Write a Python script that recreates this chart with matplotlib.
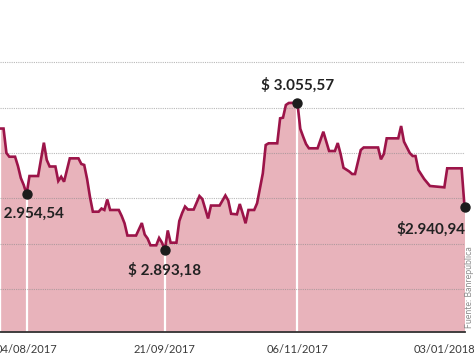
import matplotlib
matplotlib.use("Agg")
import matplotlib.pyplot as plt
import matplotlib.dates as mdates
import matplotlib.transforms as mtransforms
import numpy as np
import pandas as pd

# Cierre diario (lectura aproximada del grafico)
fechas = [
    "2017-07-26", "2017-07-27", "2017-07-28", "2017-07-29", "2017-07-31",
    "2017-08-01", "2017-08-02", "2017-08-03", "2017-08-04", "2017-08-05",
    "2017-08-08", "2017-08-10", "2017-08-11", "2017-08-12", "2017-08-14",
    "2017-08-15", "2017-08-16", "2017-08-17", "2017-08-19", "2017-08-22",
    "2017-08-23", "2017-08-24", "2017-08-25", "2017-08-26", "2017-08-27",
    "2017-08-29", "2017-08-30", "2017-08-31", "2017-09-01", "2017-09-02",
    "2017-09-05", "2017-09-06", "2017-09-07", "2017-09-08", "2017-09-11",
    "2017-09-13", "2017-09-14", "2017-09-15", "2017-09-16", "2017-09-18",
    "2017-09-19", "2017-09-20", "2017-09-21", "2017-09-22", "2017-09-23",
    "2017-09-25", "2017-09-26", "2017-09-27", "2017-09-28", "2017-09-29",
    "2017-10-01", "2017-10-03", "2017-10-04", "2017-10-06", "2017-10-07",
    "2017-10-10", "2017-10-12", "2017-10-13", "2017-10-14", "2017-10-16",
    "2017-10-17", "2017-10-18", "2017-10-19", "2017-10-20", "2017-10-22",
    "2017-10-23", "2017-10-25", "2017-10-26", "2017-10-27", "2017-10-30",
    "2017-10-31", "2017-11-01", "2017-11-02", "2017-11-03", "2017-11-06",
    "2017-11-07", "2017-11-08", "2017-11-09", "2017-11-10", "2017-11-13",
    "2017-11-15", "2017-11-17", "2017-11-19", "2017-11-20", "2017-11-21",
    "2017-11-22", "2017-11-24", "2017-11-25", "2017-11-26", "2017-11-28",
    "2017-11-29", "2017-12-04", "2017-12-05", "2017-12-06", "2017-12-07",
    "2017-12-11", "2017-12-12", "2017-12-13", "2017-12-15", "2017-12-16",
    "2017-12-17", "2017-12-18", "2017-12-20", "2017-12-22", "2017-12-27",
    "2017-12-28", "2018-01-02", "2018-01-03",
]
valores = [
    3027.0, 3027.0, 3000.0, 2995.9, 2995.9,
    2985.6, 2972.4, 2964.7, 2954.54, 2974.6,
    2974.6, 3011.4, 2992.3, 2985.1, 2985.1,
    2969.1, 2973.8, 2968.3, 2994.1, 2994.1,
    2987.9, 2986.8, 2971.3, 2951.4, 2935.2,
    2935.2, 2938.7, 2937.1, 2948.7, 2937.1,
    2937.1, 2930.5, 2922.4, 2908.9, 2908.9,
    2922.7, 2910.0, 2905.6, 2898.1, 2898.1,
    2906.2, 2901.0, 2893.18, 2914.5, 2901.0,
    2901.0, 2924.9, 2933.8, 2940.9, 2937.6,
    2937.6, 2952.5, 2949.2, 2927.7, 2942.0,
    2942.0, 2953.1, 2947.6, 2932.9, 2932.3,
    2943.7, 2933.4, 2922.4, 2937.1, 2937.1,
    2944.5, 2977.6, 3008.8, 3010.7, 3010.7,
    3038.3, 3039.0, 3053.0, 3055.2, 3055.57,
    3026.7, 3018.0, 3009.9, 3005.2, 3005.2,
    3023.5, 3002.2, 3002.2, 3011.0, 2998.9,
    2983.7, 2979.6, 2976.8, 2976.8, 3003.3,
    3006.1, 3006.1, 2993.0, 2998.9, 3016.2,
    3016.2, 3029.8, 3012.5, 3000.0, 2996.7,
    2996.7, 2981.2, 2971.3, 2963.6, 2962.1,
    2983.1, 2983.1, 2940.94,
]

# puntos destacados
fechas_marca = ["2017-08-04", "2017-09-21", "2017-11-06", "2018-01-03"]
valores_marca = [2954.54, 2893.18, 3055.57, 2940.94]
textos_marca = ["$ 2.954,54", "$ 2.893,18", "$ 3.055,57", "$2.940,94"]

fechas_ticks = ["2017-08-04", "2017-09-21", "2017-11-06", "2018-01-03"]
lineas_grilla = [2850, 2900, 2950, 3000, 3050, 3100]

x = pd.to_datetime(fechas)
xm = pd.to_datetime(fechas_marca)

color_linea = "#9c1449"
color_relleno = "#e8b3bb"
y_min, y_max = 2802.4, 3168.9

fig = plt.figure(figsize=(4.74, 3.56), dpi=100)
ax = fig.add_axes([0, 24 / 356, 464.5 / 474, 332 / 356])

ax.fill_between(x, valores, y_min, color=color_relleno, lw=0, zorder=1)
ax.vlines(xm[:3], y_min, valores_marca[:3], color="white", lw=1.6, zorder=1.5)
for g in lineas_grilla:
    ax.axhline(g, color="#8a8a8a", lw=0.8, ls=(0, (1, 1)), alpha=0.6, zorder=2)
ax.plot(x, valores, color=color_linea, lw=1.9, zorder=3, clip_on=False,
        solid_joinstyle="miter")
ax.scatter(xm, valores_marca, s=42, color="#1c1c1c", zorder=4, clip_on=False)

offsets = [(27, -14), (0, -14.5), (0, 12.5), (0.5, -16)]
alineacion = ["right", "center", "center", "right"]
for xi, yi, t, off, ha in zip(xm, valores_marca, textos_marca, offsets, alineacion):
    ax.annotate(t, (xi, yi), xytext=off, textcoords="offset points",
                ha=ha, va="center", fontsize=11, fontweight="bold",
                family="Lato", color="#222222", annotation_clip=False)

x0 = pd.Timestamp("2017-08-04") - pd.Timedelta(days=9.23)
ax.set_xlim(x0, pd.Timestamp("2018-01-03"))
ax.set_ylim(y_min, y_max)

ax.set_xticks(pd.to_datetime(fechas_ticks))
ax.xaxis.set_major_formatter(mdates.DateFormatter("%d/%m/%Y"))
ax.tick_params(axis="x", length=0, pad=8.5, labelsize=8, colors="#3a3a3a")
for lbl in ax.get_xticklabels():
    lbl.set_family("Lato")
# la ultima etiqueta se corre para que quepa
ultima = ax.get_xticklabels()[-1]
ultima.set_horizontalalignment("right")
ultima.set_transform(ultima.get_transform() +
                     mtransforms.ScaledTranslation(11 / 100, 0, fig.dpi_scale_trans))
ax.set_yticks([])

for s in ["top", "left", "right"]:
    ax.spines[s].set_visible(False)
ax.spines["bottom"].set_color("#333333")
ax.spines["bottom"].set_linewidth(1.3)
ax.spines["bottom"].set_zorder(5)

fig.text(470 / 474, 1 - 287 / 356, "Fuente: Banrepública", rotation=90,
         ha="center", va="center", fontsize=6.3, color="#8c8c8c", family="Lato")

fig.savefig("out.png", dpi=100)
